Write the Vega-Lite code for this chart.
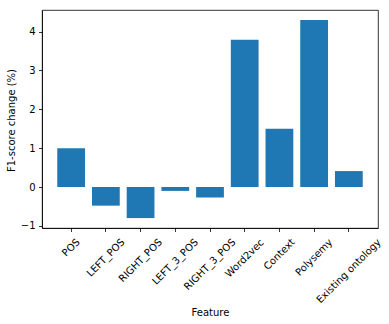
{
  "$schema": "https://vega.github.io/schema/vega-lite/v6.json",
  "width": 336,
  "height": 218,
  "autosize": "none",
  "padding": {"left": 42, "top": 10, "right": 11, "bottom": 96},
  "background": "white",
  "config": {
    "font": "DejaVu Sans",
    "view": {"stroke": "#000000", "strokeWidth": 0.8},
    "axis": {
      "grid": false,
      "domainColor": "#000000",
      "domainWidth": 0.8,
      "tickColor": "#000000",
      "tickWidth": 0.8,
      "tickSize": 3.5,
      "labelPadding": 3.5,
      "labelFont": "DejaVu Sans",
      "labelFontSize": 10,
      "labelColor": "#000000",
      "titleFont": "DejaVu Sans",
      "titleFontSize": 10,
      "titleFontWeight": "normal",
      "titleColor": "#000000"
    }
  },
  "data": {
    "values": [
      {"Feature": "POS", "change": 1.0},
      {"Feature": "LEFT_POS", "change": -0.48},
      {"Feature": "RIGHT_POS", "change": -0.8},
      {"Feature": "LEFT_3_POS", "change": -0.1},
      {"Feature": "RIGHT_3_POS", "change": -0.27},
      {"Feature": "Word2vec", "change": 3.79},
      {"Feature": "Context", "change": 1.5},
      {"Feature": "Polysemy", "change": 4.3},
      {"Feature": "Existing ontology", "change": 0.41}
    ]
  },
  "encoding": {
    "x": {
      "field": "Feature",
      "type": "nominal",
      "sort": null,
      "scale": {"paddingInner": 0.2, "paddingOuter": 0.44},
      "axis": {
        "title": "Feature",
        "labels": false,
        "titleX": 168,
        "titleY": 87,
        "titleAlign": "center",
        "titleBaseline": "alphabetic"
      }
    }
  },
  "layer": [
    {
      "mark": {"type": "bar", "color": "#1f77b4"},
      "encoding": {
        "y": {
          "field": "change",
          "type": "quantitative",
          "scale": {"domain": [-1.055, 4.555], "nice": false, "zero": false},
          "axis": {
            "title": "F1-score change (%)",
            "values": [-1, 0, 1, 2, 3, 4],
            "format": "d",
            "titleX": -28,
            "titleY": 110,
            "titleAngle": -90,
            "titleAlign": "center",
            "titleBaseline": "alphabetic"
          }
        }
      }
    },
    {
      "mark": {
        "type": "text",
        "font": "DejaVu Sans",
        "fontSize": 10,
        "color": "#000000",
        "align": "center",
        "baseline": "middle",
        "angle": 315,
        "dx": {"expr": "-0.7071 * (8.5 + 0.3536 * (11.6 + (datum.Feature == 'POS' ? 20.3 : datum.Feature == 'LEFT_POS' ? 49 : datum.Feature == 'RIGHT_POS' ? 56.5 : datum.Feature == 'LEFT_3_POS' ? 60.4 : datum.Feature == 'RIGHT_3_POS' ? 67.9 : datum.Feature == 'Word2vec' ? 50.4 : datum.Feature == 'Context' ? 39.4 : datum.Feature == 'Polysemy' ? 47.9 : 86.5)))"},
        "dy": {"expr": "0.7071 * (8.5 + 0.3536 * (11.6 + (datum.Feature == 'POS' ? 20.3 : datum.Feature == 'LEFT_POS' ? 49 : datum.Feature == 'RIGHT_POS' ? 56.5 : datum.Feature == 'LEFT_3_POS' ? 60.4 : datum.Feature == 'RIGHT_3_POS' ? 67.9 : datum.Feature == 'Word2vec' ? 50.4 : datum.Feature == 'Context' ? 39.4 : datum.Feature == 'Polysemy' ? 47.9 : 86.5)))"}
      },
      "encoding": {
        "y": {"datum": -1.055, "type": "quantitative"},
        "text": {"field": "Feature", "type": "nominal"}
      }
    }
  ]
}
